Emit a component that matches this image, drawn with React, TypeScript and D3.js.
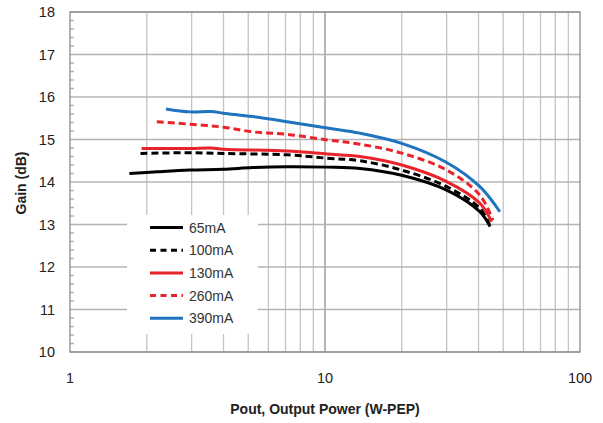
import React from "react";
import * as d3 from "d3";

const xTickLabels = [1, 10, 100];
const yTickLabels = [10, 11, 12, 13, 14, 15, 16, 17, 18];

const seriesNames = ["65mA", "100mA", "130mA", "260mA", "390mA"];
const seriesColors = ["#000000", "#000000", "#e8232a", "#e8232a", "#1f73bf"];
const seriesDash = [null, "7,4", null, "7,4", null];

const x65 = [1.71, 2.2, 2.95, 4.0, 5.2, 7.1, 10.2, 13.7, 20, 30, 40.5, 44.4];
const y65 = [14.2, 14.24, 14.28, 14.3, 14.34, 14.36, 14.35, 14.32, 14.16, 13.81, 13.3, 12.95];

const x100 = [1.89, 2.95, 4.0, 7.1, 10.2, 13.7, 20, 30, 40.5, 44.2];
const y100 = [14.67, 14.69, 14.67, 14.64, 14.56, 14.5, 14.28, 13.89, 13.38, 12.99];

const x130 = [1.91, 2.95, 3.57, 4.0, 7.1, 10.2, 13.7, 20, 30, 40.5, 45];
const y130 = [14.79, 14.79, 14.8, 14.77, 14.73, 14.66, 14.6, 14.4, 14.01, 13.5, 13.07];

const x260 = [2.19, 2.95, 4.0, 5.2, 7.1, 10.2, 13.7, 20, 30, 40.5, 45.5];
const y260 = [15.42, 15.36, 15.29, 15.18, 15.12, 14.99, 14.89, 14.68, 14.28, 13.69, 13.1];

const x390 = [2.38, 2.95, 3.57, 4.0, 5.2, 7.1, 10.2, 13.7, 20, 30, 40.5, 48.5];
const y390 = [15.72, 15.65, 15.66, 15.62, 15.54, 15.42, 15.27, 15.15, 14.91, 14.46, 13.89, 13.3];

const seriesX = [x65, x100, x130, x260, x390];
const seriesY = [y65, y100, y130, y260, y390];

export default function App() {
  const W = 603, H = 423;
  const left = 70, right = 580, top = 12, bottom = 352;
  const x = d3.scaleLog().domain([1, 100]).range([left, right]);
  const y = d3.scaleLinear().domain([10, 18]).range([bottom, top]);
  const font = "'Liberation Sans', Arial, sans-serif";

  const minorX: number[] = [];
  for (const dec of [1, 10]) for (let k = 2; k <= 9; k++) minorX.push(dec * k);
  const minorY: number[] = [];
  for (let v = 10; v < 18; v++) for (let k = 1; k <= 4; k++) minorY.push(v + k * 0.2);

  const line = d3
    .line<[number, number]>()
    .x((d) => x(d[0]))
    .y((d) => y(d[1]))
    .curve(d3.curveCatmullRom.alpha(0.5));

  const legX = 127, legY = 215, legW = 131, legH = 119;
  const rowY = (i: number) => 227.5 + i * 22.7;

  return (
    <svg width={W} height={H} style={{ position: "absolute", left: 0, top: 0, background: "#fff" }}>
      <rect x={0} y={0} width={W} height={H} fill="#fff" />
      {minorX.map((v) => (
        <line key={"vx" + v} x1={x(v)} x2={x(v)} y1={top} y2={bottom} stroke="#c4c4c4" strokeWidth={1.3} />
      ))}
      <line x1={x(10)} x2={x(10)} y1={top} y2={bottom} stroke="#8c8c8c" strokeWidth={1.3} />
      {yTickLabels.map((v) => (
        <line key={"hy" + v} x1={left} x2={right} y1={y(v)} y2={y(v)} stroke="#b4b4b4" strokeWidth={1.5} />
      ))}
      {minorY.map((v) => (
        <line key={"my" + v} x1={left} x2={left + 4} y1={y(v)} y2={y(v)} stroke="#b4b4b4" strokeWidth={1.5} />
      ))}
      <rect x={left} y={top} width={right - left} height={bottom - top} fill="none" stroke="#8c8c8c" strokeWidth={1.3} />

      {seriesNames.map((n, i) => (
        <path
          key={n}
          d={line(seriesX[i].map((xv, j) => [xv, seriesY[i][j]] as [number, number])) || ""}
          fill="none"
          stroke={seriesColors[i]}
          strokeWidth={3}
          strokeDasharray={seriesDash[i] || undefined}
        />
      ))}

      <rect x={legX} y={legY} width={legW} height={legH} fill="#fff" />
      {seriesNames.map((n, i) => (
        <g key={"leg" + n}>
          <line x1={150} x2={183} y1={rowY(i)} y2={rowY(i)} stroke={seriesColors[i]} strokeWidth={3} strokeDasharray={seriesDash[i] ? "6,4.5" : undefined} />
          <text x={189} y={rowY(i) + 5} fontFamily={font} fontSize={14} fill="#333">{n}</text>
        </g>
      ))}

      {yTickLabels.map((v) => (
        <text key={"yl" + v} x={55} y={y(v) + 5} textAnchor="end" fontFamily={font} fontSize={14.5} fill="#222">{v}</text>
      ))}
      {xTickLabels.map((v) => (
        <text key={"xl" + v} x={x(v)} y={383} textAnchor="middle" fontFamily={font} fontSize={14.5} fill="#222">{v}</text>
      ))}
      <text x={325} y={414} textAnchor="middle" fontFamily={font} fontSize={14} fontWeight="bold" fill="#222">
        Pout, Output Power (W-PEP)
      </text>
      <text transform={`translate(26,183) rotate(-90)`} textAnchor="middle" fontFamily={font} fontSize={14} fontWeight="bold" fill="#222">
        Gain (dB)
      </text>
    </svg>
  );
}
